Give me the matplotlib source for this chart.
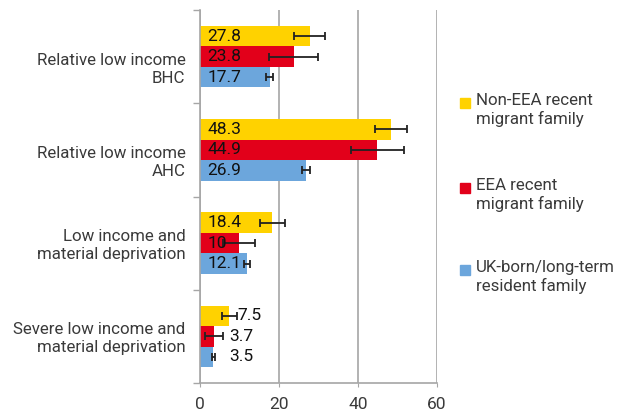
import matplotlib; matplotlib.use('Agg')
import matplotlib.pyplot as plt
import matplotlib.transforms as mtransforms
from matplotlib.patches import Rectangle
import numpy as np

plt.rcParams['font.family'] = ['Roboto', 'DejaVu Sans']

categories = ['Relative low income\nBHC', 'Relative low income\nAHC',
              'Low income and\nmaterial deprivation',
              'Severe low income and\nmaterial deprivation']
series = ['Non-EEA recent\nmigrant family', 'EEA recent\nmigrant family',
          'UK-born/long-term\nresident family']
non_eea = [27.8, 48.3, 18.4, 7.5]
eea = [23.8, 44.9, 10.0, 3.7]
uk = [17.7, 26.9, 12.1, 3.5]
non_eea_err = [4.0, 4.0, 3.1, 1.9]
eea_err = [6.2, 6.7, 4.0, 2.3]
uk_err = [0.85, 0.9, 0.75, 0.4]
value_labels = [['27.8', '48.3', '18.4', '7.5'],
                ['23.8', '44.9', '10', '3.7'],
                ['17.7', '26.9', '12.1', '3.5']]

YELLOW, RED, BLUE = '#FFD200', '#E2001A', '#6CA6DC'
colors = [YELLOW, RED, BLUE]
TXT = '#3A3A3A'

fig = plt.figure(figsize=(6.26, 4.12), dpi=100)
ax = fig.add_axes([0.3187, 0.0704, 0.3794, 0.9053])

centers = np.arange(len(categories)) + 0.5
h = 0.22
vals = [non_eea, eea, uk]
errs = [non_eea_err, eea_err, uk_err]
for i, (v, e, c) in enumerate(zip(vals, errs, colors)):
    y = centers + (i - 1) * h
    ax.barh(y, v, height=h, color=c, zorder=2)
    ax.errorbar(v, y, xerr=e, fmt='none', ecolor='#222222', elinewidth=1.3,
                capsize=3, capthick=1.3, zorder=3)
    for j, (val, err) in enumerate(zip(v, e)):
        if val > 9:
            x = 2.0
        else:
            x = max(val + err, 7.4) + 0.2
        ax.text(x, y[j], value_labels[i][j], va='center', ha='left',
                fontsize=12.5, color='#111111', zorder=4)

ax.set_xlim(0, 60)
ax.set_ylim(len(categories), 0)
ax.set_xticks([0, 20, 40, 60])
ax.xaxis.grid(True, color='#A6A6A6', lw=1.2, zorder=0)
ax.set_yticks(np.arange(len(categories) + 1))
ax.set_yticklabels([])

# category labels; the first two sit a little lower in the original
label_shift = [-13, -13, -2, -2]
blend = mtransforms.blended_transform_factory(ax.transAxes, ax.transData)
for cat, yc, dy in zip(categories, centers, label_shift):
    tr = blend + mtransforms.ScaledTranslation(-14 / 100, dy / 100, fig.dpi_scale_trans)
    ax.text(0, yc, cat, transform=tr, ha='right', va='center', fontsize=12.2,
            color=TXT, linespacing=1.25, multialignment='right')

ax.tick_params(axis='y', which='major', length=5, color='#A6A6A6', width=1)
ax.tick_params(axis='x', length=3, color='#A6A6A6', labelsize=12.5,
               labelcolor=TXT, pad=7)
for s in ['top', 'right']:
    ax.spines[s].set_visible(False)
for s in ['left', 'bottom']:
    ax.spines[s].set_color('#A6A6A6')
    ax.spines[s].set_linewidth(1.2)

# legend, square aligned with first line
leg_y = [103, 188, 270]
for name, c, yp in zip(series, colors, leg_y):
    fy = 1 - yp / 412
    fig.patches.append(Rectangle((460 / 626, fy - 5 / 412), 10 / 626, 10 / 412,
                                 transform=fig.transFigure, color=c))
    fig.text(476 / 626, fy + 10 / 412, name, ha='left', va='top', fontsize=12.2,
             color=TXT, linespacing=1.25)

fig.savefig('out.png', dpi=100)
